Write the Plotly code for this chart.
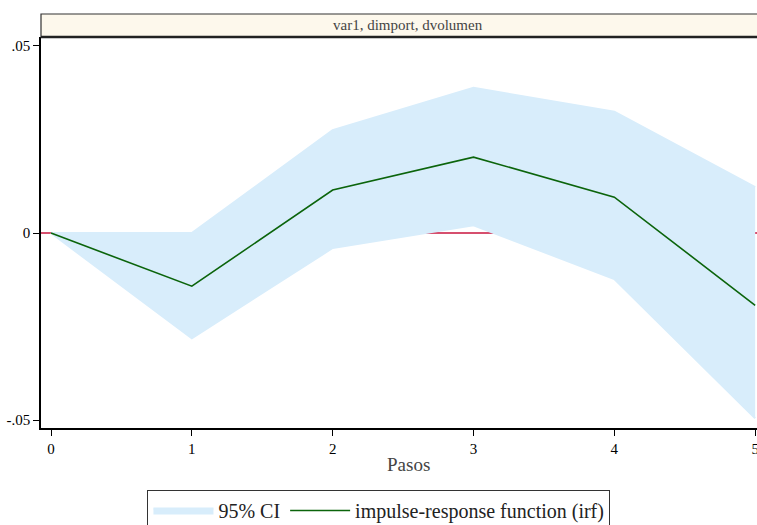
import plotly.graph_objects as go

steps = [0, 1, 2, 3, 4, 5]
irf = [0.0, -0.0142, 0.0115, 0.0203, 0.0096, -0.0193]
ci_upper = [0.0, 0.0, 0.0275, 0.0388, 0.0324, 0.0123]
ci_lower = [0.0, -0.0281, -0.0040, 0.0021, -0.0123, -0.0495]
y_ticks = [-0.05, 0, 0.05]
y_ticklabels = ["-.05", "0", ".05"]
panel_title = "var1, dimport, dvolumen"
x_title = "Pasos"

FONT = "Liberation Serif, Times New Roman, serif"
CI_COLOR = "#d8edfb"

fig = go.Figure()
fig.add_trace(go.Scatter(x=steps, y=ci_lower, mode="lines", line=dict(width=2, color=CI_COLOR),
                         showlegend=False, hoverinfo="skip"))
fig.add_trace(go.Scatter(x=steps, y=ci_upper, mode="lines", line=dict(width=2, color=CI_COLOR),
                         fill="tonexty", fillcolor=CI_COLOR, name="95% CI"))
fig.add_trace(go.Scatter(x=steps, y=irf, mode="lines", line=dict(width=1.6, color="#0b640b"),
                         name="impulse-response function (irf)"))

fig.add_hline(y=0, line=dict(color="#c8153e", width=1.5), layer="below")

# strip header
fig.add_shape(type="rect", xref="paper", yref="paper", x0=0, x1=1.01, y0=1.0, y1=1.0 + 23 / 391,
              fillcolor="#fdf8ec", line=dict(color="#333333", width=1.2))
fig.add_shape(type="line", xref="paper", yref="paper", x0=0, x1=1.01, y0=1.0, y1=1.0,
              line=dict(color="#222222", width=2.5))
fig.add_annotation(text=panel_title, xref="paper", yref="paper", x=0.5126, y=1.0 + 12 / 391,
                   showarrow=False, font=dict(family=FONT, size=15, color="#444444"), yanchor="middle")
fig.add_annotation(text=x_title, xref="paper", yref="paper", x=0.5126, y=-36 / 391,
                   showarrow=False, font=dict(family=FONT, size=19, color="#444444"), yanchor="middle")

fig.update_layout(
    width=757, height=525,
    margin=dict(l=41, r=0, t=37, b=97, autoexpand=False),
    paper_bgcolor="white", plot_bgcolor="white",
    font=dict(family=FONT, color="black"),
    xaxis=dict(range=[-0.071, 5.013], tickvals=steps, ticktext=[str(s) for s in steps],
               showgrid=False, zeroline=False, showline=True, linecolor="black", linewidth=1.5,
               ticks="outside", ticklen=6, tickcolor="black", tickfont=dict(size=15, family=FONT),
               ticklabeloverflow="allow"),
    yaxis=dict(range=[-0.0521, 0.0524], tickvals=y_ticks, ticktext=y_ticklabels,
               showgrid=False, zeroline=False, showline=True, linecolor="black", linewidth=1.5,
               ticks="outside", ticklen=6, tickcolor="black", tickfont=dict(size=15, family=FONT)),
    legend=dict(orientation="h", x=0.472, xanchor="center", y=-62 / 391, yanchor="top",
                traceorder="normal",
                bordercolor="#333333", borderwidth=1, bgcolor="white",
                font=dict(size=20, family=FONT, color="#222222"), itemwidth=60),
)

fig.write_html("out.html", config={"displayModeBar": False},
               post_script="document.body.style.margin='0';")
